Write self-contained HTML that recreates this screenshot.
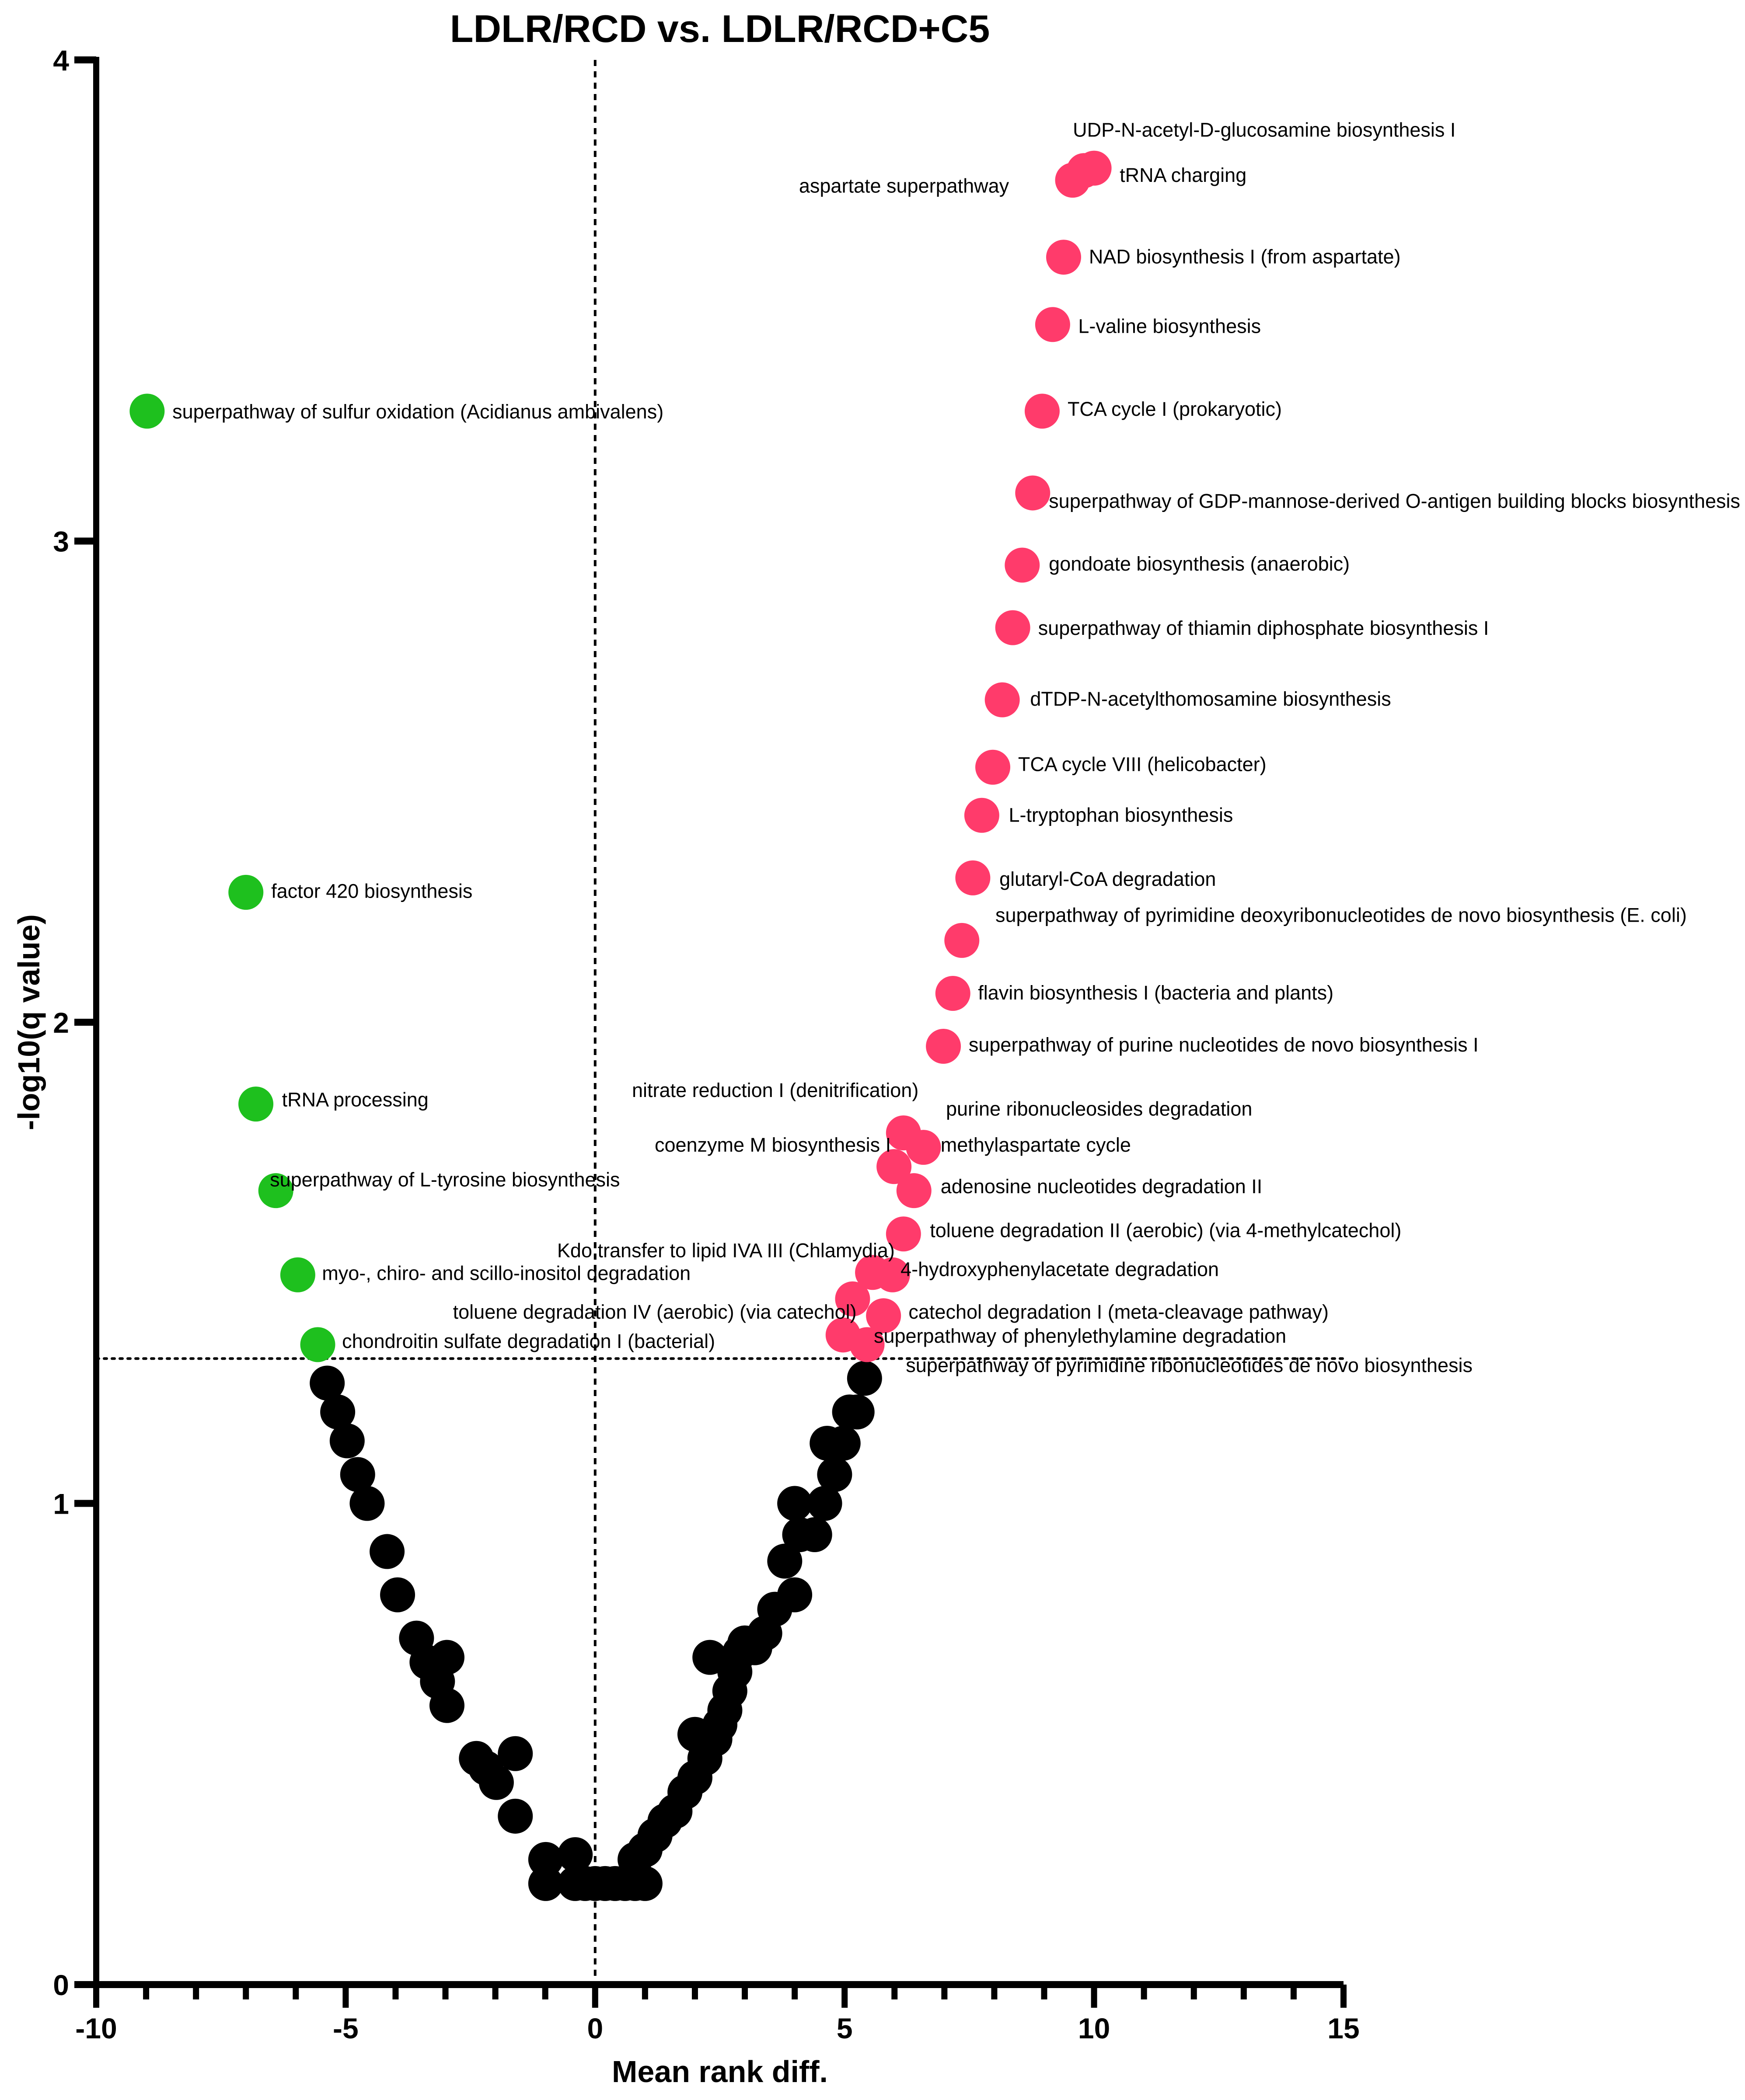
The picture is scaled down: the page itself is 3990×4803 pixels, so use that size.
<!DOCTYPE html>
<html><head><meta charset="utf-8"><style>
html,body{margin:0;padding:0;background:#fff}
svg{display:block}
text{font-family:"Liberation Sans",Arial,sans-serif}
</style></head><body>
<svg id="chart" width="3990" height="4803" viewBox="0 0 3990 4803" xmlns="http://www.w3.org/2000/svg">
<rect width="3990" height="4803" fill="#fff"/>
<text x="1646" y="96" font-size="88" font-weight="bold" text-anchor="middle">LDLR/RCD vs. LDLR/RCD+C5</text>
<text x="1646" y="4762" font-size="70" font-weight="bold" text-anchor="middle">Mean rank diff.</text>
<text transform="translate(90,2338) rotate(-90)" font-size="70" font-weight="bold" text-anchor="middle">-log10(q value)</text>
<g id="ref"></g>
<g id="pts"></g>
<g id="labels"></g>
<g id="axes"></g>
</svg>
<script>
const xTicks=[-10,-5,0,5,10,15];
const yTicks=[0,1,2,3,4];
const threshold=1.301;
const blackX=[-5.37,-5.16,-4.97,-4.76,-4.57,-4.17,-3.96,-3.58,-3.37,-3.16,-2.97,-2.97,-2.38,-2.19,-1.98,-1.6,-1.6,-0.99,-0.99,-0.4,-0.4,-0.2,0,0.2,0.4,0.6,0.8,1.0,0.8,1.0,1.2,1.4,1.6,1.8,2.0,2.0,2.2,2.3,2.4,2.5,2.6,2.7,2.8,2.9,3.0,3.2,3.4,3.6,3.8,4.0,4.0,4.1,4.4,4.6,4.8,4.65,4.97,5.1,5.25,5.4];
const blackY=[1.25,1.19,1.13,1.06,1.0,0.9,0.81,0.72,0.67,0.63,0.68,0.58,0.47,0.45,0.42,0.48,0.35,0.26,0.21,0.27,0.21,0.21,0.21,0.21,0.21,0.21,0.21,0.21,0.26,0.28,0.31,0.34,0.36,0.4,0.43,0.52,0.47,0.68,0.51,0.54,0.57,0.61,0.65,0.69,0.71,0.7,0.73,0.78,0.88,0.81,1.0,0.935,0.935,1.0,1.06,1.125,1.125,1.19,1.19,1.26];
const greenX=[-8.98,-7.0,-6.8,-6.4,-5.96,-5.56];
const greenY=[3.27,2.27,1.83,1.65,1.475,1.33];
const greenNames=["superpathway of sulfur oxidation (Acidianus ambivalens)","factor 420 biosynthesis","tRNA processing","superpathway of L-tyrosine biosynthesis","myo-, chiro- and scillo-inositol degradation","chondroitin sulfate degradation I (bacterial)"];
const greenLabX=[129,203,211,202,241,256];
const greenLabY=[308,667,823,883,953,1004];
const redX=[10.0,9.8,9.57,9.39,9.17,8.96,8.77,8.56,8.37,8.16,7.97,7.75,7.57,7.35,7.17,6.98,6.18,6.58,5.99,6.39,6.18,5.56,5.96,5.16,5.78,4.97,5.45];
const redY=[3.775,3.77,3.75,3.59,3.45,3.27,3.1,2.95,2.82,2.67,2.53,2.43,2.3,2.17,2.06,1.95,1.77,1.74,1.7,1.65,1.56,1.48,1.475,1.425,1.39,1.35,1.33];
const redNames=["UDP-N-acetyl-D-glucosamine biosynthesis I","tRNA charging","aspartate superpathway","NAD biosynthesis I (from aspartate)","L-valine biosynthesis","TCA cycle I (prokaryotic)","superpathway of GDP-mannose-derived O-antigen building blocks biosynthesis","gondoate biosynthesis (anaerobic)","superpathway of thiamin diphosphate biosynthesis I","dTDP-N-acetylthomosamine biosynthesis","TCA cycle VIII (helicobacter)","L-tryptophan biosynthesis","glutaryl-CoA degradation","superpathway of pyrimidine deoxyribonucleotides de novo biosynthesis (E. coli)","flavin biosynthesis I (bacteria and plants)","superpathway of purine nucleotides de novo biosynthesis I","nitrate reduction I (denitrification)","purine ribonucleosides degradation","coenzyme M biosynthesis I","methylaspartate cycle","adenosine nucleotides degradation II","toluene degradation II (aerobic) (via 4-methylcatechol)","Kdo transfer to lipid IVA III (Chlamydia)","4-hydroxyphenylacetate degradation","toluene degradation IV (aerobic) (via catechol)","catechol degradation I (meta-cleavage pathway)","superpathway of phenylethylamine degradation"];
const redLabX=[803,838,598,815,807,799,785,785,777,771,762,755,748,745,732,725,473,708,490,704,704,696,417,674,339,680,654];
const redLabY=[97,131,139,192,244,306,375,422,470,523,572,610,658,685,743,782,816,830,857,857,888,921,936,950,982,982,1000];
const extraName="superpathway of pyrimidine ribonucleotides de novo biosynthesis";

const NS="http://www.w3.org/2000/svg";
const X0=220,X1=3072,Y0=4539,Y4=137;
const sx=v=>X0+(v+10)/25*(X1-X0);
const sy=v=>Y0-v/4*(Y0-Y4);
const TS=3.055;
function mk(tag,attrs,parent){const e=document.createElementNS(NS,tag);for(const k in attrs)e.setAttribute(k,attrs[k]);parent.appendChild(e);return e;}
const ref=document.getElementById('ref'),pts=document.getElementById('pts'),lab=document.getElementById('labels'),ax=document.getElementById('axes');

let l=mk('line',{x1:sx(0),x2:sx(0),y1:sy(4),y2:sy(0),stroke:'#000','stroke-width':6,'stroke-dasharray':'14 12'},ref);


l=mk('line',{x1:sx(-10),x2:sx(15),y1:sy(threshold),y2:sy(threshold),stroke:'#000','stroke-width':6,'stroke-dasharray':'6 12','stroke-linecap':'round'},ref);



for(let i=0;i<blackX.length;i++){
 const c=mk('circle',{cx:sx(blackX[i]),cy:sy(blackY[i]),r:40,fill:'#000'},pts);
 
 
}
for(let i=0;i<redX.length;i++){
 const c=mk('circle',{cx:sx(redX[i]),cy:sy(redY[i]),r:40,fill:'#ff3b6b'},pts);
 
 
}
for(let i=0;i<greenX.length;i++){
 const c=mk('circle',{cx:sx(greenX[i]),cy:sy(greenY[i]),r:40,fill:'#1ec01e'},pts);
 
 
}
function addLabel(t,tx,ty){
 const e=mk('text',{x:tx*TS,y:ty*TS+16,'font-size':45},lab);
 e.textContent=t;
 
 
}
redNames.forEach((n,i)=>addLabel(n,redLabX[i],redLabY[i]));
greenNames.forEach((n,i)=>addLabel(n,greenLabX[i],greenLabY[i]));
addLabel(extraName,678,1022);

l=mk('line',{x1:X0,x2:X0,y1:Y4-7,y2:Y0,stroke:'#000','stroke-width':14},ax);


l=mk('line',{x1:170,x2:X1,y1:Y0,y2:Y0,stroke:'#000','stroke-width':16},ax);


yTicks.forEach(v=>{
 const t=mk('line',{x1:170,x2:X0,y1:sy(v),y2:sy(v),stroke:'#000','stroke-width':16},ax);
 
 
 const tx=mk('text',{x:158,y:sy(v)+24,'font-size':66,'font-weight':'bold','text-anchor':'end'},ax);
 tx.textContent=v;
 
 
});
for(let v=-10;v<=15;v++){
 const major=xTicks.includes(v);
 const t=mk('line',{x1:sx(v),x2:sx(v),y1:Y0,y2:major?4592:4573,stroke:'#000','stroke-width':14},ax);
 
 
}
xTicks.forEach(v=>{
 const tx=mk('text',{x:sx(v),y:4662,'font-size':66,'font-weight':'bold','text-anchor':'middle'},ax);
 tx.textContent=v;
 
 
});
</script>
</body></html>
